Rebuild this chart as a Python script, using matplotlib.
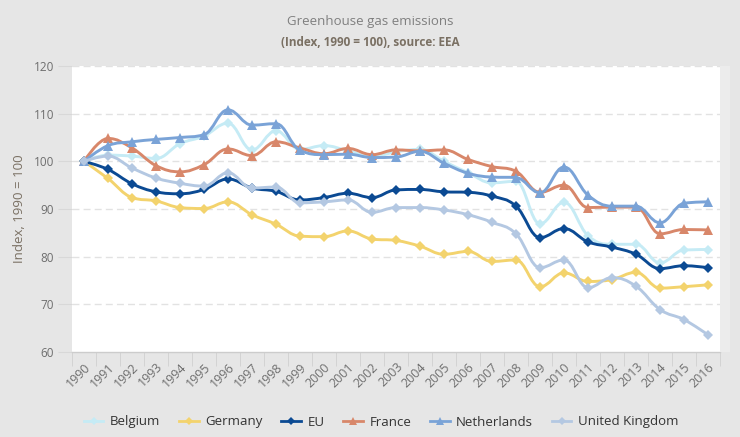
import matplotlib
matplotlib.use('Agg')
import matplotlib.pyplot as plt
from matplotlib.path import Path
from matplotlib.patches import PathPatch, Rectangle
from matplotlib.lines import Line2D

years = [str(y) for y in range(1990, 2017)]

belgium = [100, 101.3, 101.1, 100.6, 103.7, 105.3, 108.0, 102.4, 106.4, 102.5, 103.3,
           102.2, 101.0, 102.0, 102.5, 100.0, 97.6, 95.5, 95.8, 86.9, 91.4, 84.4,
           82.6, 82.6, 78.7, 81.4, 81.5]
germany = [100, 96.4, 92.4, 91.7, 90.3, 90.1, 91.5, 88.8, 86.8, 84.3, 84.2,
           85.4, 83.7, 83.4, 82.2, 80.5, 81.1, 79.0, 79.3, 73.7, 76.6, 74.8,
           75.2, 76.7, 73.4, 73.7, 74.1]
eu = [100, 98.3, 95.3, 93.6, 93.2, 94.1, 96.3, 94.4, 93.7, 91.9, 92.4,
      93.3, 92.4, 94.0, 94.1, 93.6, 93.5, 92.7, 90.6, 84.0, 85.9, 83.1,
      82.0, 80.5, 77.5, 78.1, 77.7]
france = [100, 104.8, 102.8, 99.1, 97.8, 99.3, 102.6, 101.2, 104.1, 102.8, 101.6,
          102.7, 101.4, 102.4, 102.2, 102.4, 100.4, 98.9, 97.9, 93.5, 95.0, 90.3,
          90.4, 90.4, 84.8, 85.7, 85.6]
netherlands = [100, 103.3, 104.1, 104.6, 105.0, 105.6, 110.8, 107.6, 107.9, 102.3, 101.4,
               101.5, 100.8, 100.9, 102.1, 99.6, 97.5, 96.7, 96.6, 93.4, 98.8, 92.9,
               90.6, 90.6, 87.1, 91.2, 91.5]
uk = [100, 101.1, 98.6, 96.5, 95.4, 94.8, 97.6, 94.4, 94.6, 91.3, 91.5,
      91.9, 89.3, 90.3, 90.3, 89.8, 88.8, 87.2, 84.8, 77.7, 79.3, 73.5,
      75.6, 73.8, 68.9, 66.8, 63.6]

series = [
    ("Belgium", belgium, "#c5ebf5", "D"),
    ("Germany", germany, "#f3d36d", "D"),
    ("EU", eu, "#0b4a93", "D"),
    ("France", france, "#d8876a", "^"),
    ("Netherlands", netherlands, "#7aa3d7", "^"),
    ("United Kingdom", uk, "#b4c8e2", "D"),
]


def spline_path(xs, ys, smoothing=1.5):
    n = len(xs)
    lc = [None] * n
    rc = [None] * n
    d = smoothing + 1
    for i in range(1, n - 1):
        px, py = xs[i], ys[i]
        lx, ly = xs[i - 1], ys[i - 1]
        nx, ny = xs[i + 1], ys[i + 1]
        lcx = (smoothing * px + lx) / d
        lcy = (smoothing * py + ly) / d
        rcx = (smoothing * px + nx) / d
        rcy = (smoothing * py + ny) / d
        if rcx != lcx:
            corr = ((rcy - lcy) * (rcx - px)) / (rcx - lcx) + py - rcy
            lcy += corr
            rcy += corr
        if lcy > ly and lcy > py:
            lcy = max(ly, py)
            rcy = 2 * py - lcy
        elif lcy < ly and lcy < py:
            lcy = min(ly, py)
            rcy = 2 * py - lcy
        if rcy > ny and rcy > py:
            rcy = max(ny, py)
            lcy = 2 * py - rcy
        elif rcy < ny and rcy < py:
            rcy = min(ny, py)
            lcy = 2 * py - rcy
        lc[i] = (lcx, lcy)
        rc[i] = (rcx, rcy)
    verts = [(xs[0], ys[0])]
    codes = [Path.MOVETO]
    for i in range(1, n):
        c1 = rc[i - 1] if rc[i - 1] is not None else (xs[i - 1], ys[i - 1])
        c2 = lc[i] if lc[i] is not None else (xs[i], ys[i])
        verts += [c1, c2, (xs[i], ys[i])]
        codes += [Path.CURVE4] * 3
    return Path(verts, codes)


plt.rcParams['font.family'] = ['Open Sans', 'DejaVu Sans']
bg = "#e6e6e6"
fig = plt.figure(figsize=(7.4, 4.37), dpi=100, facecolor=bg)
W, H = 740, 437
x0, x1, y0, y1 = 72, 720, 66, 352
ax = fig.add_axes([x0 / W, 1 - y1 / H, (x1 - x0) / W, (y1 - y0) / H])
ax.set_facecolor("white")

# light strip right of plot
fig.patches.append(Rectangle((720 / W, 1 - 352 / H), 10 / W, 286 / H,
                             transform=fig.transFigure, facecolor="#ececec",
                             edgecolor="none", zorder=0))

xs = list(range(len(years)))
ax.set_xlim(-0.5, len(years) - 0.5)
ax.set_ylim(60, 120)

for yv in [70, 80, 90, 100, 110, 120]:
    ax.axhline(yv, color="#e2e2e2", lw=1, ls=(0, (5, 3)), zorder=1)

handles = []
for i, (name, vals, col, mk) in enumerate(series):
    p = spline_path(xs, vals)
    ax.add_patch(PathPatch(p, facecolor="none", edgecolor=col, lw=2.1,
                           zorder=3 + i, capstyle='round', joinstyle='round'))
    ms = 5.5 if mk == "D" else 7
    ax.plot(xs, vals, ls="none", marker=mk, ms=ms, color=col,
            markeredgewidth=0, zorder=3 + i)
    handles.append(Line2D([0], [0], color=col, lw=2, marker=mk,
                          ms=ms - 1, markeredgewidth=0))

for s in ["top", "right", "left"]:
    ax.spines[s].set_visible(False)
ax.spines["bottom"].set_color("#cccccc")
ax.spines["bottom"].set_linewidth(1)

ax.set_yticks([60, 70, 80, 90, 100, 110, 120])
ax.tick_params(axis="y", length=10, color="#d8d8d8", labelsize=8.5,
               labelcolor="#6e6e6e", pad=3)
ax.set_xticks(xs)
ax.set_xticklabels(years, rotation=45, ha="right", rotation_mode="anchor",
                   fontsize=9, color="#6e6e6e")
ax.set_xticks([x - 0.5 for x in xs] + [len(years) - 0.5], minor=True)
ax.tick_params(axis="x", which="major", length=0, pad=6)
ax.tick_params(axis="x", which="minor", length=10, color="#d0d0d0")

fig.text(20 / W, 1 - 209 / H, "Index, 1990 = 100", rotation=90, ha="center",
         va="center", fontsize=9.5, color="#7a7063")
fig.text(0.5, 1 - 21 / H, "Greenhouse gas emissions", ha="center", va="center",
         fontsize=9.5, color="#7f7f7f")
fig.text(0.5, 1 - 43 / H, "(Index, 1990 = 100), source: EEA", ha="center",
         va="center", fontsize=8.5, fontweight="bold", color="#7a7063")

fig.legend(handles, [s[0] for s in series], loc="center",
           bbox_to_anchor=(0.515, 1 - 422 / H), ncol=6, frameon=False,
           fontsize=9.5, handlelength=1.5, columnspacing=1.4, handletextpad=0.5,
           labelcolor="#333333")

fig.savefig("out.png", dpi=100, facecolor=bg)
